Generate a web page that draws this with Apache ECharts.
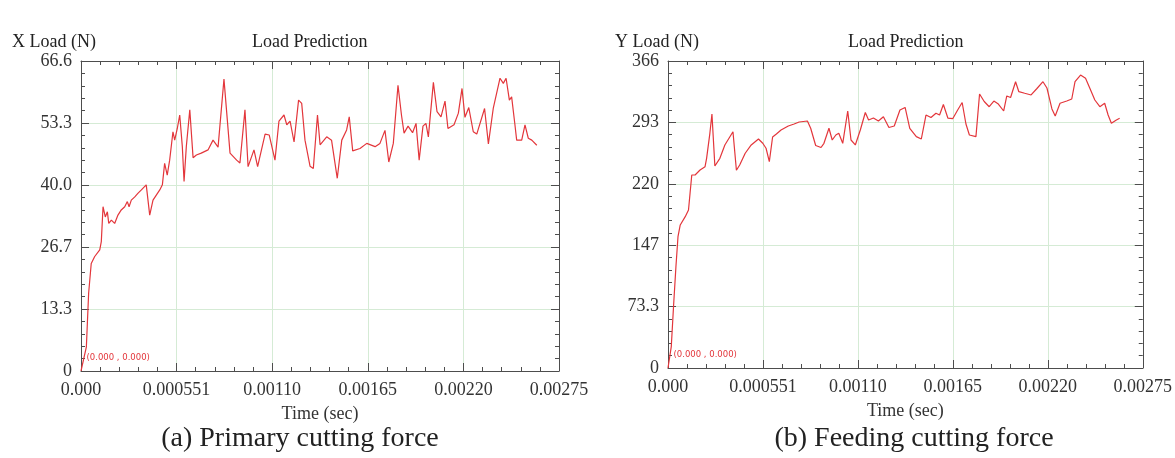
<!DOCTYPE html>
<html>
<head>
<meta charset="utf-8">
<script src="https://cdn.jsdelivr.net/npm/echarts@6/dist/echarts.min.js"></script>
<style>
  html, body { margin: 0; padding: 0; background: #fff; }
  #chart-load { width: 1175px; height: 458px; }
</style>
</head>
<body>
<div id="chart-load"></div>
<script>
// tick labels
const timeTicks = ["0.000", "0.000551", "0.00110", "0.00165", "0.00220", "0.00275"];
const xLoadTicks = ["0", "13.3", "26.7", "40.0", "53.3", "66.6"];
const yLoadTicks = ["0", "73.3", "147", "220", "293", "366"];

// (a) primary cutting force, time in microseconds
const timeX = [0, 31, 44, 59, 79, 108, 117, 127, 140, 152, 160, 175, 194, 213, 232, 252, 267, 277, 290, 310,
  329, 348, 376, 396, 415, 434, 454, 469, 482, 497, 511, 530, 540, 555, 569, 584, 594, 607, 627, 646,
  665, 693, 732, 761, 790, 824, 859, 897, 916, 945, 963, 997, 1018, 1061, 1085, 1118, 1141, 1170, 1186, 1205,
  1228, 1254, 1272, 1291, 1320, 1339, 1363, 1378, 1416, 1444, 1477, 1503, 1531, 1546, 1566, 1608, 1647, 1695, 1723, 1752,
  1774, 1800, 1827, 1847, 1862, 1885, 1911, 1931, 1949, 1971, 1988, 2002, 2031, 2052, 2075, 2098, 2115, 2150, 2175, 2196,
  2213, 2235, 2261, 2281, 2326, 2348, 2376, 2415, 2434, 2450, 2469, 2482, 2501, 2511, 2540, 2559, 2578, 2598, 2627];
const loadX = [0, 5.2, 16.7, 23.1, 24.6, 26.0, 27.8, 35.3, 33.1, 34.2, 31.7, 32.4, 31.7, 33.5, 34.6, 35.3, 36.4, 35.3, 36.7, 37.4,
  38.2, 38.9, 40.0, 33.5, 36.7, 37.8, 38.9, 40.0, 44.6, 42.1, 45.3, 51.4, 49.6, 52.1, 55.0, 48.2, 40.7, 48.2, 56.1, 45.8,
  46.4, 46.8, 47.5, 49.6, 48.1, 62.7, 46.8, 45.3, 44.7, 56.1, 43.9, 47.5, 43.9, 50.9, 50.7, 45.3, 53.7, 55.0, 52.9, 53.7,
  49.2, 58.2, 57.5, 49.6, 44.0, 43.5, 55.0, 48.6, 50.3, 49.6, 41.4, 49.6, 51.8, 54.6, 47.3, 47.8, 48.9, 48.2, 48.9, 51.7,
  44.9, 48.9, 61.4, 55.0, 51.1, 52.6, 51.2, 53.2, 45.3, 52.6, 53.2, 50.3, 62.0, 55.7, 54.6, 58.0, 52.1, 52.9, 55.4, 60.7,
  54.5, 56.6, 51.4, 50.9, 56.4, 48.8, 56.4, 62.9, 61.8, 62.9, 58.2, 58.9, 52.9, 49.6, 49.6, 52.9, 50.0, 49.6, 48.5];

// (b) feeding cutting force, time in microseconds
const timeY = [0, 19, 32, 46, 58, 71, 100, 119, 128, 138, 157, 186, 215, 224, 243, 255, 272, 301, 330, 377,
  397, 416, 448, 483, 525, 550, 569, 588, 607, 629, 656, 698, 732, 761, 809, 828, 857, 888, 905, 934,
  953, 974, 991, 1014, 1043, 1062, 1087, 1116, 1145, 1164, 1192, 1221, 1250, 1282, 1313, 1346, 1376, 1403, 1441, 1470,
  1497, 1526, 1555, 1576, 1598, 1624, 1653, 1681, 1707, 1729, 1749, 1787, 1808, 1835, 1864, 1891, 1917, 1948, 1966, 1988,
  2017, 2036, 2070, 2107, 2141, 2176, 2199, 2228, 2247, 2275, 2314, 2343, 2362, 2394, 2423, 2448, 2477, 2506, 2534, 2554,
  2573, 2602, 2621];
const loadY = [0, 25.4, 73.1, 120.8, 156.5, 170.5, 180.4, 188.4, 208.3, 230.1, 230.1, 236.1, 240.0, 250.0, 279.8, 302.8, 240.8, 250.0, 265.9, 281.7,
  235.7, 242.0, 256.0, 265.9, 273.0, 267.9, 262.0, 246.0, 275.4, 279.0, 283.7, 288.5, 290.9, 293.3, 294.5, 285.8, 265.3, 262.9, 267.9, 285.8,
  271.8, 277.8, 279.8, 267.9, 306.4, 271.8, 265.9, 283.7, 304.6, 295.7, 298.0, 294.5, 299.6, 286.7, 288.5, 307.6, 310.6, 285.8, 275.8, 273.0,
  301.6, 298.6, 303.7, 301.6, 314.1, 298.0, 297.4, 307.6, 316.5, 290.9, 277.8, 275.8, 326.7, 317.7, 311.5, 318.3, 314.7, 306.4, 324.3, 322.5,
  341.3, 329.4, 327.5, 325.5, 333.2, 341.3, 333.8, 308.8, 300.4, 315.6, 318.3, 320.7, 341.3, 349.3, 345.4, 333.5, 319.5, 311.5, 315.6, 301.6,
  291.7, 295.7, 297.7];

const serif = "Liberation Serif";
const lineColor = "#e3363b";
const axisColor = "#4d4d4d";
const gridColor = "#d5ebd5";
const timeStep = 0.000551;

function pairs(times, values) {
  return times.map((t, i) => [t * 1e-6, values[i]]);
}

function xAxes(grid) {
  const base = {
    gridIndex: grid,
    type: "value",
    min: 0,
    max: timeStep * 5,
    interval: timeStep,
    axisLine: { show: true, onZero: false, lineStyle: { color: axisColor, width: 1 } },
    axisTick: { show: true, inside: true, length: 8, lineStyle: { color: axisColor } },
    minorTick: { show: true, splitNumber: 5, length: 4, lineStyle: { color: axisColor } },
  };
  return [
    Object.assign({}, base, {
      position: "bottom",
      name: "Time (sec)",
      nameLocation: "middle",
      nameGap: 34,
      nameTextStyle: { fontFamily: serif, fontSize: 18, color: "#333" },
      axisLabel: {
        margin: 10,
        fontFamily: serif,
        fontSize: 18,
        color: "#333",
        formatter: (v) => timeTicks[Math.round(v / timeStep)],
      },
      splitLine: { show: true, lineStyle: { color: gridColor, width: 1 } },
    }),
    Object.assign({}, base, {
      position: "top",
      axisLabel: { show: false },
      splitLine: { show: false },
    }),
  ];
}

function yAxes(grid, max, labels) {
  const step = max / 5;
  const base = {
    gridIndex: grid,
    type: "value",
    min: 0,
    max: max,
    interval: step,
    axisLine: { show: true, onZero: false, lineStyle: { color: axisColor, width: 1 } },
    axisTick: { show: true, inside: true, length: 8, lineStyle: { color: axisColor } },
    minorTick: { show: true, splitNumber: 5, length: 4, lineStyle: { color: axisColor } },
  };
  return [
    Object.assign({}, base, {
      position: "left",
      axisLabel: {
        margin: 9,
        fontFamily: serif,
        fontSize: 18,
        color: "#333",
        formatter: (v) => labels[Math.round(v / step)],
      },
      splitLine: { show: true, lineStyle: { color: gridColor, width: 1 } },
    }),
    Object.assign({}, base, {
      position: "right",
      axisLabel: { show: false },
      splitLine: { show: false },
    }),
  ];
}

function originMark() {
  return {
    symbol: "circle",
    symbolSize: 1,
    itemStyle: { color: "rgba(0,0,0,0)" },
    label: {
      show: true,
      position: [6, -17],
      formatter: "(0.000 , 0.000)",
      color: "#e3363b",
      fontFamily: "DejaVu Sans",
      fontSize: 8.5,
    },
    data: [{ coord: [0, 0] }],
  };
}

function text(str, left, top, size, align) {
  return {
    text: str,
    left: left,
    top: top,
    padding: 0,
    textAlign: align || "left",
    textStyle: { fontFamily: serif, fontSize: size, fontWeight: "normal", color: "#222" },
  };
}

let chart = echarts.init(document.getElementById("chart-load"), null, { renderer: "canvas" });
chart.setOption({
  backgroundColor: "#fff",
  animation: false,
  title: [
    text("X Load (N)", 12, 33, 18),
    text("Load Prediction", 252, 33, 18),
    text("(a) Primary cutting force", 300, 425, 28, "center"),
    text("Y Load (N)", 615, 33, 18),
    text("Load Prediction", 848, 33, 18),
    text("(b) Feeding cutting force", 914, 425, 28, "center"),
  ],
  grid: [
    { left: 81, top: 61, width: 478, height: 310 },
    { left: 668, top: 61, width: 479, height: 307 },
  ],
  xAxis: xAxes(0).concat(xAxes(1)),
  yAxis: yAxes(0, 66.6, xLoadTicks).concat(yAxes(1, 366, yLoadTicks)),
  series: [
    {
      type: "line",
      name: "X Load",
      xAxisIndex: 0,
      yAxisIndex: 0,
      data: pairs(timeX, loadX),
      showSymbol: false,
      lineStyle: { color: lineColor, width: 1.2 },
      markPoint: originMark(),
    },
    {
      type: "line",
      name: "Y Load",
      xAxisIndex: 2,
      yAxisIndex: 2,
      data: pairs(timeY, loadY),
      showSymbol: false,
      lineStyle: { color: lineColor, width: 1.2 },
      markPoint: originMark(),
    },
  ],
});
</script>
</body>
</html>
